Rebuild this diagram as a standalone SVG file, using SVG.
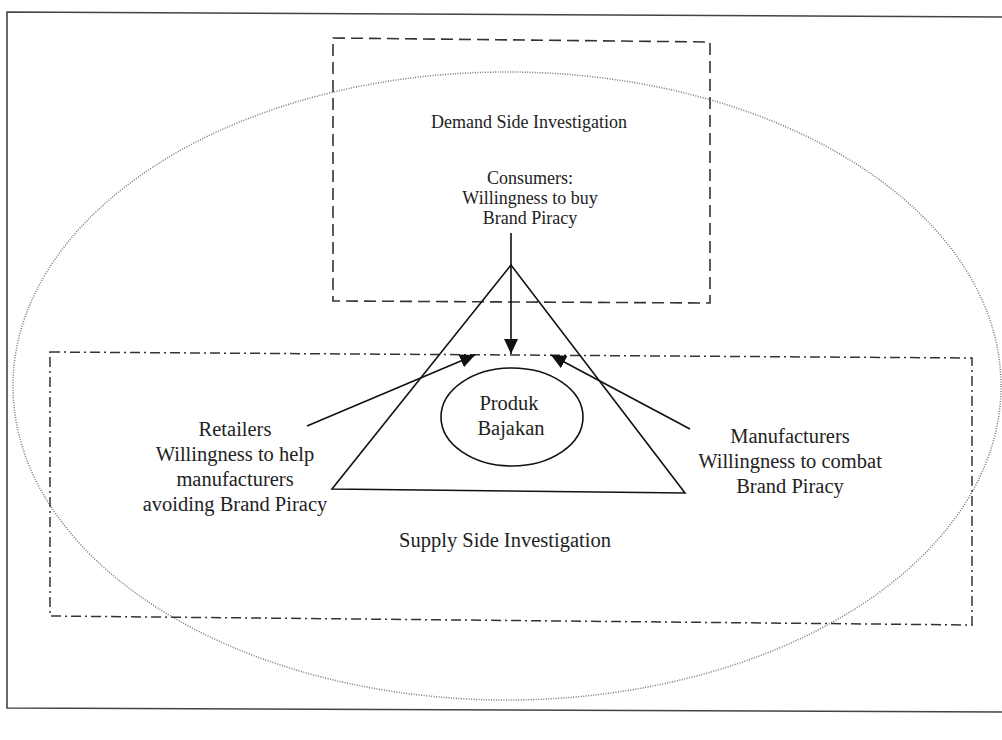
<svg xmlns="http://www.w3.org/2000/svg" width="1002" height="740" viewBox="0 0 1002 740">
  <style>
    .lbl { font-family: "Liberation Serif", "Times New Roman", serif; fill: #222; text-anchor: middle; }
    .s18 { font-size: 18px; }
    .s20 { font-size: 20.5px; }
    .frame { fill: none; stroke: #444; stroke-width: 1.6; }
    .scope { fill: none; stroke: #777; stroke-width: 1.5; stroke-dasharray: 1 1.5; }
    .demand { fill: none; stroke: #333; stroke-width: 1.6; stroke-dasharray: 12 6; }
    .supply { fill: none; stroke: #333; stroke-width: 1.5; stroke-dasharray: 10 4 2 4; }
    .solid { fill: none; stroke: #111; stroke-width: 1.6; }
  </style>
  <defs>
    <marker id="arrow" markerUnits="userSpaceOnUse" markerWidth="16" markerHeight="14" refX="15" refY="7" orient="auto">
      <path d="M0,0 L15,7 L0,14 Z" fill="#111"/>
    </marker>
  </defs>

  <rect width="1002" height="740" fill="#fff"/>

  <!-- page frame -->
  <polyline class="frame" points="1002,17 7,12 7,708 1002,712"/>

  <!-- overall scope ellipse -->
  <ellipse class="scope" cx="507" cy="386" rx="494" ry="314"/>

  <!-- demand side box -->
  <g id="demand-side">
    <polygon class="demand" points="333,38 710,42 710,303 333,301"/>
    <text class="lbl s18" x="529" y="128">Demand Side Investigation</text>
    <text class="lbl s18" x="530" y="184">Consumers:</text>
    <text class="lbl s18" x="530" y="204">Willingness to buy</text>
    <text class="lbl s18" x="530" y="224">Brand Piracy</text>
  </g>

  <!-- supply side box -->
  <g id="supply-side">
    <polygon class="supply" points="50,352 972,358 972,625 50,616"/>
    <text class="lbl s20" x="505" y="547">Supply Side Investigation</text>
  </g>

  <!-- triangle -->
  <g id="triangle">
    <polygon class="solid" points="511,265 332,489 685,493"/>
  </g>

  <!-- central product node -->
  <g id="produk-bajakan">
    <ellipse class="solid" cx="512" cy="417" rx="71" ry="49"/>
    <text class="lbl s20" x="509" y="410">Produk</text>
    <text class="lbl s20" x="511" y="435">Bajakan</text>
  </g>

  <g id="retailers">
    <text class="lbl s20" x="235" y="436">Retailers</text>
    <text class="lbl s20" x="235" y="461">Willingness to help</text>
    <text class="lbl s20" x="235" y="486">manufacturers</text>
    <text class="lbl s20" x="235" y="511">avoiding Brand Piracy</text>
  </g>

  <g id="manufacturers">
    <text class="lbl s20" x="790" y="443">Manufacturers</text>
    <text class="lbl s20" x="790" y="468">Willingness to combat</text>
    <text class="lbl s20" x="790" y="493">Brand Piracy</text>
  </g>

  <!-- connectors -->
  <g id="connectors">
    <line class="solid" x1="511" y1="233" x2="511" y2="354" marker-end="url(#arrow)"/>
    <line class="solid" x1="307" y1="426" x2="475" y2="355" marker-end="url(#arrow)"/>
    <line class="solid" x1="690" y1="429" x2="551" y2="355" marker-end="url(#arrow)"/>
  </g>
</svg>
